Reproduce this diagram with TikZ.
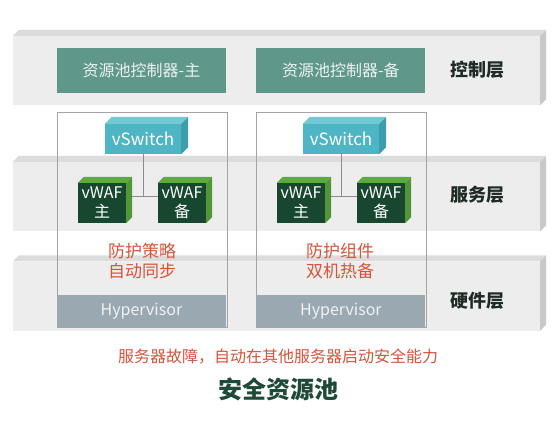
\documentclass[tikz,border=0pt]{standalone}
\usepackage{fontspec}
\setmainfont{Noto Sans CJK SC}
\usetikzlibrary{positioning}
\usepackage{xcolor}

\definecolor{bandfront}{HTML}{EDEDED}
\definecolor{bandtop}{HTML}{DCDCDC}
\definecolor{bandside}{HTML}{C8C8C8}
\definecolor{ctrlgreen}{HTML}{5F978A}
\definecolor{swblue}{HTML}{4DB5C4}
\definecolor{swtop}{HTML}{74C8D4}
\definecolor{swside}{HTML}{3C9DAC}
\definecolor{wafdark}{HTML}{17472F}
\definecolor{wafgreen}{HTML}{5DAA3E}
\definecolor{hvgray}{HTML}{9AA9B1}
\definecolor{alertred}{HTML}{D5543A}
\definecolor{labeldark}{HTML}{1E2B25}
\definecolor{titlegreen}{HTML}{1F4A38}
\definecolor{framegray}{HTML}{A3A3A3}

\begin{document}
\begin{tikzpicture}[ x=1pt, y=1pt, node distance=30pt, band/.style={ rectangle, fill=bandfront, minimum width=527, minimum height=69, inner sep=0 }, ctrlbox/.style={ rectangle, fill=ctrlgreen, minimum width=169, minimum height=45, text=white!88!ctrlgreen, font=\fontsize{16}{18}\selectfont }, layerLabel/.style={ text=labeldark, font=\fontsize{18}{20}\selectfont\bfseries }, vmframe/.style={ rectangle, draw=framegray, line width=0.6pt, minimum width=170, minimum height=215 }, switchbox/.style={ rectangle, fill=swblue, minimum width=76, minimum height=30, inner sep=0, text=white, font=\fontsize{17}{19}\selectfont }, wafbox/.style={ rectangle, fill=wafdark, minimum width=48, minimum height=40, inner sep=0, align=center, text=white, font=\fontsize{16}{19}\selectfont }, hvbox/.style={ rectangle, fill=hvgray, minimum width=169, minimum height=32, text=white!85!hvgray, font=\fontsize{16}{18}\selectfont }, note/.style={ text=alertred, align=center, font=\fontsize{17}{20}\selectfont }, link/.style={ draw=framegray!85!black, line width=0.6pt } ]
\fill[white] (0,0) rectangle (556,421);

% --- Layers ---
\node[band] (ctrl) at (276.5,350.5) {};
\node[band] (svc) at (276.5,224.5) {};
\node[band] (hw) at (276.5,125) {};
\foreach \n in {ctrl,svc,hw} {
  \fill[bandtop] (\n.north west) -- ++(6,6) -- ([shift={(6,6)}]\n.north east) -- (\n.north east) -- cycle;
  \fill[bandside] (\n.north east) -- ++(6,6) -- ([shift={(6,6)}]\n.south east) -- (\n.south east) -- cycle;
}

% --- Control layer ---
\node[ctrlbox] (ctrlA) at (141.5,350.5) {资源池控制器-主};
\node[ctrlbox, right=30pt of ctrlA] (ctrlB) {资源池控制器-备};
\node[layerLabel] (ctrlLabel) at (477,351) {控制层};

% --- Virtual machines ---
\node[vmframe] (vmA) at (142,201.5) {};
\node[vmframe, right=29pt of vmA] (vmB) {};

\node[switchbox] (swA) at (143,282) {vSwitch};
\node[switchbox] (swB) at (341,282) {vSwitch};

\node[wafbox] (wafA1) at (102,218) {vWAF\\主};
\node[wafbox] (wafA2) at (182,218) {vWAF\\备};
\node[wafbox] (wafB1) at (301,218) {vWAF\\主};
\node[wafbox] (wafB2) at (381,218) {vWAF\\备};
\node[layerLabel] (svcLabel) at (477,226) {服务层};

% --- Links ---
\coordinate (jA) at ([yshift=7pt]swA.south |- wafA1.east);
\coordinate (jB) at ([yshift=7pt]swB.south |- wafB1.east);
\draw[link] (swA.south) -- (jA);
\draw[link] (swB.south) -- (jB);
\draw[link] ([yshift=7pt]wafA1.east) -- ([yshift=7pt]wafA2.west);
\draw[link] ([yshift=7pt]wafB1.east) -- ([yshift=7pt]wafB2.west);

% --- 3D faces ---
\foreach \n in {swA,swB} {
  \fill[swtop] (\n.north west) -- ++(7,7) -- ([shift={(7,7)}]\n.north east) -- (\n.north east) -- cycle;
  \fill[swside] (\n.north east) -- ++(7,7) -- ([shift={(7,7)}]\n.south east) -- (\n.south east) -- cycle;
}
\foreach \n in {wafA1,wafA2,wafB1,wafB2} {
  \fill[wafgreen] (\n.north west) -- ++(6,6) -- ([shift={(6,6)}]\n.north east) -- (\n.north east) -- cycle;
  \fill[wafgreen!88!black] (\n.north east) -- ++(6,6) -- ([shift={(6,6)}]\n.south east) -- (\n.south east) -- cycle;
}

% --- Hardware layer ---
\node[note] (noteA) at (142,160) {防护策略\\自动同步};
\node[note] (noteB) at (340,160) {防护组件\\双机热备};
\node[hvbox] (hvA) at (141.5,110) {Hypervisor};
\node[hvbox, right=30pt of hvA] (hvB) {Hypervisor};
\node[layerLabel] (hwLabel) at (477,120) {硬件层};

% --- Caption ---
\node[note, font=\fontsize{16}{18}\selectfont] (summary) at (278,64) {服务器故障，自动在其他服务器启动安全能力};
\node[text=titlegreen, font=\fontsize{24}{28}\selectfont\bfseries] (title) at (278,32) {安全资源池};
\end{tikzpicture}
\end{document}
